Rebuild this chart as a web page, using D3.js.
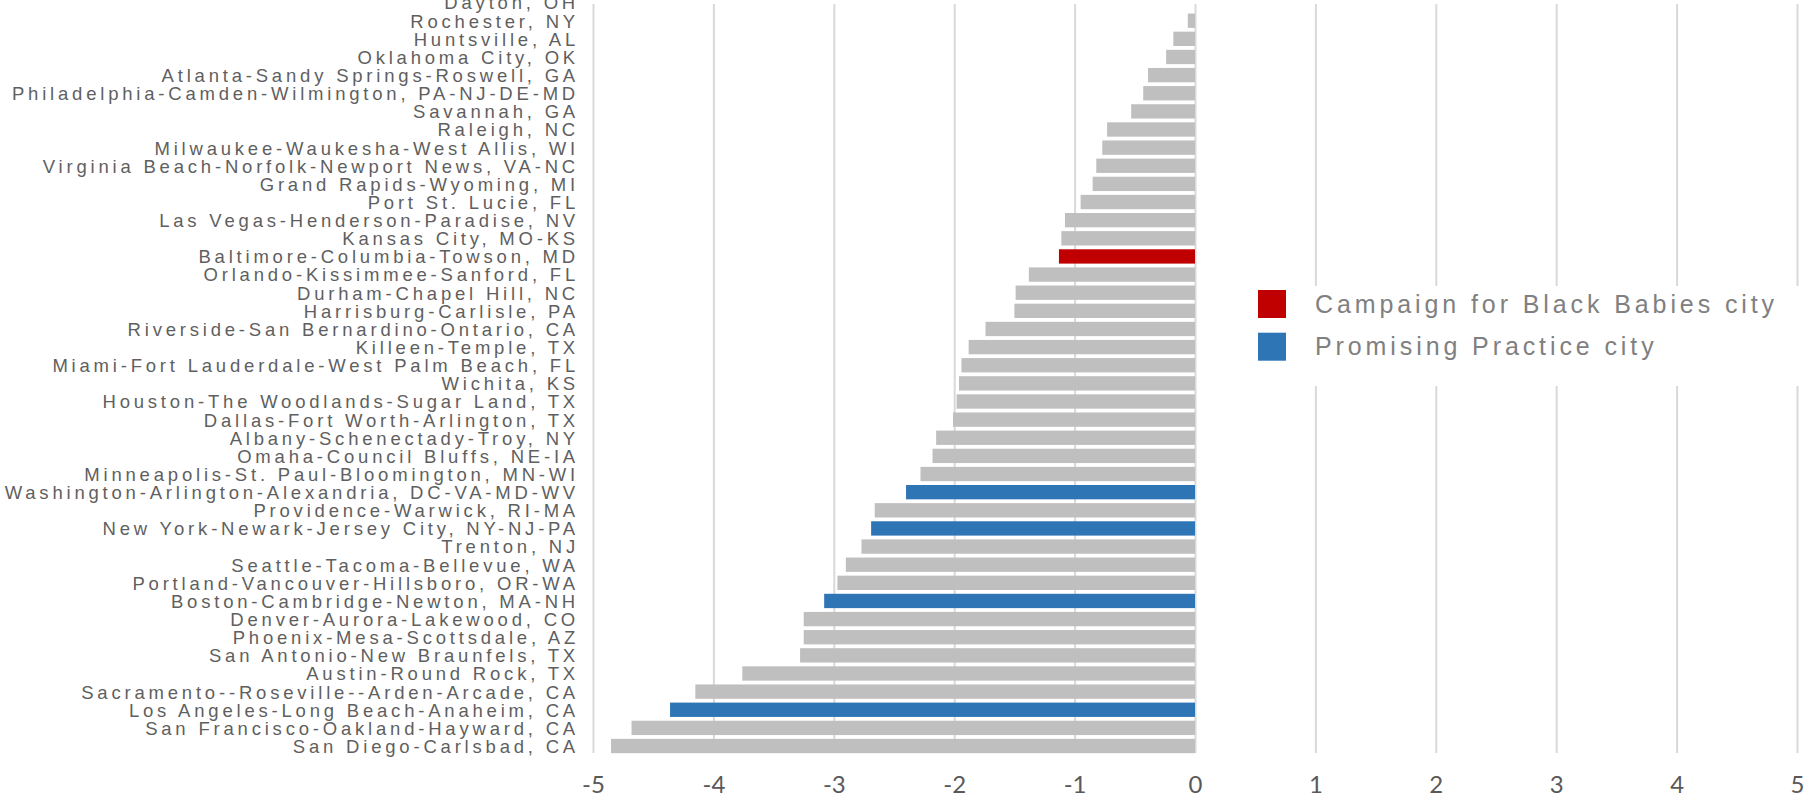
<!DOCTYPE html>
<html>
<head>
<meta charset="utf-8">
<script src="https://cdn.jsdelivr.net/npm/d3@7"></script>
<style>
  body { margin: 0; background: #fff; }
  svg { display: block; }
</style>
</head>
<body>
<svg id="chart" width="1806" height="800"></svg>
<script>
var w = 1806;
var h = 800;

// metro areas, top to bottom
var cities = [
  "Dayton, OH", "Rochester, NY", "Huntsville, AL", "Oklahoma City, OK",
  "Atlanta-Sandy Springs-Roswell, GA", "Philadelphia-Camden-Wilmington, PA-NJ-DE-MD",
  "Savannah, GA", "Raleigh, NC", "Milwaukee-Waukesha-West Allis, WI",
  "Virginia Beach-Norfolk-Newport News, VA-NC", "Grand Rapids-Wyoming, MI",
  "Port St. Lucie, FL", "Las Vegas-Henderson-Paradise, NV", "Kansas City, MO-KS",
  "Baltimore-Columbia-Towson, MD", "Orlando-Kissimmee-Sanford, FL",
  "Durham-Chapel Hill, NC", "Harrisburg-Carlisle, PA",
  "Riverside-San Bernardino-Ontario, CA", "Killeen-Temple, TX",
  "Miami-Fort Lauderdale-West Palm Beach, FL", "Wichita, KS",
  "Houston-The Woodlands-Sugar Land, TX", "Dallas-Fort Worth-Arlington, TX",
  "Albany-Schenectady-Troy, NY", "Omaha-Council Bluffs, NE-IA",
  "Minneapolis-St. Paul-Bloomington, MN-WI", "Washington-Arlington-Alexandria, DC-VA-MD-WV",
  "Providence-Warwick, RI-MA", "New York-Newark-Jersey City, NY-NJ-PA",
  "Trenton, NJ", "Seattle-Tacoma-Bellevue, WA", "Portland-Vancouver-Hillsboro, OR-WA",
  "Boston-Cambridge-Newton, MA-NH", "Denver-Aurora-Lakewood, CO",
  "Phoenix-Mesa-Scottsdale, AZ", "San Antonio-New Braunfels, TX",
  "Austin-Round Rock, TX", "Sacramento--Roseville--Arden-Arcade, CA",
  "Los Angeles-Long Beach-Anaheim, CA", "San Francisco-Oakland-Hayward, CA",
  "San Diego-Carlsbad, CA"
];

var values = [
  0, -0.06, -0.18, -0.24, -0.39, -0.43, -0.53, -0.73, -0.77, -0.82,
  -0.85, -0.95, -1.08, -1.11, -1.13, -1.38, -1.49, -1.50, -1.74, -1.88,
  -1.94, -1.96, -1.98, -2.01, -2.15, -2.18, -2.28, -2.40, -2.66, -2.69,
  -2.77, -2.90, -2.97, -3.08, -3.25, -3.25, -3.28, -3.76, -4.15, -4.36,
  -4.68, -4.85
];

var campaignCities = ["Baltimore-Columbia-Towson, MD"];
var promisingCities = [
  "Washington-Arlington-Alexandria, DC-VA-MD-WV",
  "New York-Newark-Jersey City, NY-NJ-PA",
  "Boston-Cambridge-Newton, MA-NH",
  "Los Angeles-Long Beach-Anaheim, CA"
];

var xTicks = [-5, -4, -3, -2, -1, 0, 1, 2, 3, 4, 5];
var legendLabels = ["Campaign for Black Babies city", "Promising Practice city"];
var legendColors = ["#c00000", "#2e75b6"];

var data = cities.map(function(c, i) { return {city: c, value: values[i]}; });

var svg = d3.select('#chart');

var x = d3.scaleLinear()
  .domain([-5, 5])
  .range([593, 1797]);

var y = d3.scaleBand()
  .domain(cities)
  .range([-6.4, 755])
  .paddingInner(0.21)
  .paddingOuter(0.1);

//gridlines
svg.append('g')
  .attr('class', 'grid')
  .attr('transform', 'translate(0,753)')
  .call(d3.axisBottom(x).tickValues(xTicks).tickSize(-749).tickFormat(''))
  .call(function(g) {
    g.select('.domain').remove();
    g.selectAll('line').attr('stroke', '#d9d9d9').attr('stroke-width', 2);
  });

//bars
svg.append('g')
  .selectAll('rect')
  .data(data)
  .enter()
  .append('rect')
  .attr('x', function(d) { return x(Math.min(0, d.value)); })
  .attr('y', function(d) { return y(d.city); })
  .attr('width', function(d) { return Math.abs(x(d.value) - x(0)); })
  .attr('height', y.bandwidth())
  .attr('fill', function(d) {
    if (campaignCities.indexOf(d.city) >= 0) return legendColors[0];
    if (promisingCities.indexOf(d.city) >= 0) return legendColors[1];
    return '#bfbfbf';
  });

//city labels
svg.append('g')
  .attr('transform', 'translate(579,1)')
  .call(d3.axisLeft(y).tickSize(0).tickPadding(0))
  .call(function(g) {
    g.select('.domain').remove();
    g.selectAll('text')
      .attr('font-family', '"Liberation Sans", Arial, sans-serif')
      .attr('font-size', '18.5px')
      .attr('letter-spacing', '3.8px')
      .attr('fill', '#5f5f5f');
  });

//x tick labels (plain hyphen like the original)
svg.append('g')
  .attr('transform', 'translate(0,776)')
  .call(d3.axisBottom(x).tickValues(xTicks).tickSize(0).tickPadding(0)
    .tickFormat(function(d) { return String(d); }))
  .call(function(g) {
    g.select('.domain').remove();
    g.selectAll('text')
      .attr('font-family', 'Lato, "Open Sans", sans-serif')
      .attr('font-size', '24px')
      .attr('fill', '#595959');
  });

//legend with white backing over the grid
svg.append('rect')
  .attr('x', 1240).attr('y', 286)
  .attr('width', 566).attr('height', 100)
  .attr('fill', '#fff');

var legend = svg.append('g')
  .selectAll('g')
  .data(legendLabels)
  .enter()
  .append('g')
  .attr('transform', function(d, i) { return 'translate(1258,' + (290 + i * 42.7) + ')'; });

legend.append('rect')
  .attr('width', 28).attr('height', 28)
  .attr('fill', function(d, i) { return legendColors[i]; });

legend.append('text')
  .attr('x', 57).attr('y', 14)
  .attr('dy', '0.35em')
  .attr('font-family', '"Liberation Sans", Arial, sans-serif')
  .attr('font-size', '25px')
  .attr('letter-spacing', '3.9px')
  .attr('fill', '#808080')
  .text(function(d) { return d; });
</script>
</body>
</html>
